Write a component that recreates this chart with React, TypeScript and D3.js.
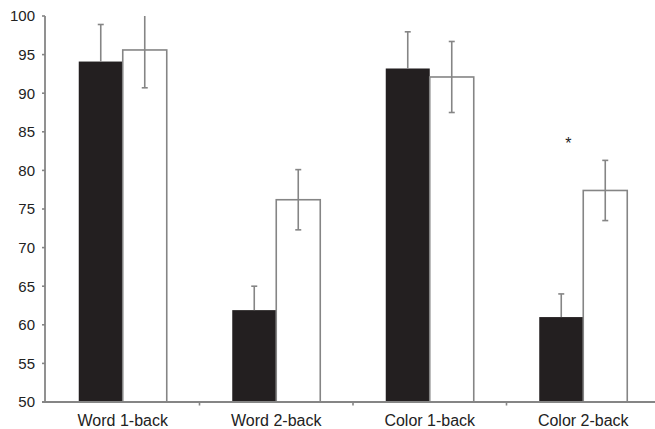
import React from "react";
import * as d3 from "d3";

// Task accuracy (%) per condition, two groups, with SE bars
const categories = ["Word 1-back", "Word 2-back", "Color 1-back", "Color 2-back"];
const groupA = [94.1, 61.9, 93.2, 61.0];
const groupAErr = [4.8, 3.1, 4.75, 3.0];
const groupB = [95.6, 76.2, 92.1, 77.4];
const groupBErr = [4.9, 3.9, 4.6, 3.9];
const yTicks = [50, 55, 60, 65, 70, 75, 80, 85, 90, 95, 100];
const significant = [false, false, false, true];

const W = 655;
const H = 429;
const AXIS = "#858585";
const FONT = "'Liberation Sans', Arial, Helvetica, sans-serif";

export default function App() {
  const y = d3.scaleLinear().domain([50, 100]).range([402, 16]);
  const x = d3.scaleBand<string>().domain(categories).range([46, 660]);
  const bw = x.bandwidth();
  const barW = 44;
  const cap = 3;

  return (
    <svg
      width={W}
      height={H}
      style={{ position: "absolute", left: 0, top: 0, background: "#fff" }}
      fontFamily={FONT}
    >
      {/* bars */}
      {categories.map((c, i) => {
        const cx = (x(c) ?? 0) + bw / 2;
        return (
          <g key={c}>
            <rect x={cx - barW} y={y(groupA[i])} width={barW} height={y(50) - y(groupA[i])} fill="#231f20" />
            <rect
              x={cx}
              y={y(groupB[i])}
              width={barW}
              height={y(50) - y(groupB[i])}
              fill="#fff"
              stroke={AXIS}
              strokeWidth={1.6}
            />
          </g>
        );
      })}

      {/* error bars */}
      {categories.map((c, i) => {
        const cx = (x(c) ?? 0) + bw / 2;
        const ax = cx - barW / 2;
        const bx = cx + barW / 2;
        const aTop = y(groupA[i] + groupAErr[i]);
        const bHiVal = groupB[i] + groupBErr[i];
        const bTop = y(Math.min(100, bHiVal));
        const bBot = y(groupB[i] - groupBErr[i]);
        return (
          <g key={c + "-err"} stroke={AXIS} strokeWidth={1.6}>
            <line x1={ax} x2={ax} y1={y(groupA[i])} y2={aTop} />
            <line x1={ax - cap} x2={ax + cap} y1={aTop} y2={aTop} />
            <line x1={bx} x2={bx} y1={bTop} y2={bBot} />
            {bHiVal <= 100 && <line x1={bx - cap} x2={bx + cap} y1={bTop} y2={bTop} />}
            <line x1={bx - cap} x2={bx + cap} y1={bBot} y2={bBot} />
          </g>
        );
      })}

      {/* significance marks */}
      {categories.map((c, i) =>
        significant[i] ? (
          <text
            key={c + "-sig"}
            x={(x(c) ?? 0) + bw / 2 - 15}
            y={149}
            textAnchor="middle"
            fontSize={16}
            fill="#222"
          >
            *
          </text>
        ) : null
      )}

      {/* y axis */}
      <line x1={45} x2={45} y1={y(100)} y2={y(50)} stroke={AXIS} strokeWidth={1.8} />
      {yTicks.map((t) => (
        <g key={t}>
          <line x1={42} x2={45} y1={y(t)} y2={y(t)} stroke={AXIS} strokeWidth={1.6} />
          <text x={35} y={y(t)} dy="0.36em" textAnchor="end" fontSize={15} fill="#222">
            {t}
          </text>
        </g>
      ))}

      {/* x axis */}
      <line x1={42} x2={W} y1={y(50)} y2={y(50)} stroke={AXIS} strokeWidth={1.8} />
      {categories.slice(1).map((c) => (
        <line key={c + "-tick"} x1={x(c)} x2={x(c)} y1={y(50)} y2={y(50) + 3.5} stroke={AXIS} strokeWidth={1.6} />
      ))}
      {categories.map((c) => (
        <text key={c + "-lab"} x={(x(c) ?? 0) + bw / 2} y={426} textAnchor="middle" fontSize={16} fill="#222">
          {c}
        </text>
      ))}
    </svg>
  );
}
